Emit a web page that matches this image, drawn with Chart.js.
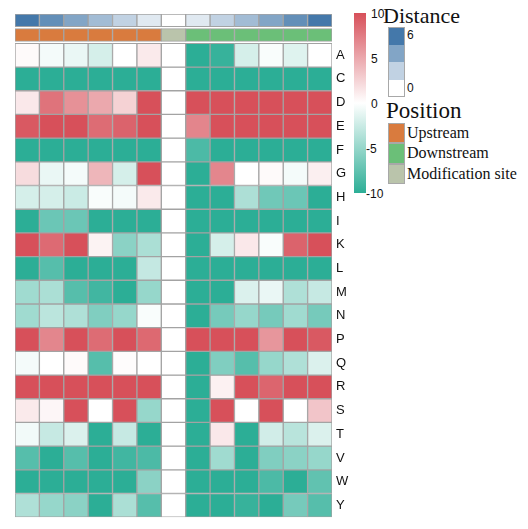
<!DOCTYPE html>
<html>
<head>
<meta charset="utf-8">
<script src="https://cdn.jsdelivr.net/npm/chart.js@4"></script>
<style>
  body { margin: 0; background: #fff; }
  #wrap { position: relative; width: 528px; height: 529px; overflow: hidden; }
  #heat { position: absolute; left: 0; top: 0; }
  .abs { position: absolute; white-space: nowrap; }
  .sans { font-family: "Liberation Sans", Arial, sans-serif; color: #111; }
  .serif { font-family: "Liberation Serif", "Times New Roman", serif; color: #111; }
  .sw { position: absolute; box-sizing: border-box; border: 1px solid #a8a8a8; }
</style>
</head>
<body>
<div id="wrap">
  <canvas id="heat" width="352" height="529"></canvas>
  <div id="legend"></div>
</div>
<script>
// residues (rows) and positions relative to the modified site (columns)
const residues = ["A", "C", "D", "E", "F", "G", "H", "I", "K", "L", "M", "N", "P", "Q", "R", "S", "T", "V", "W", "Y"]
const positions = ["-6", "-5", "-4", "-3", "-2", "-1", "0", "1", "2", "3", "4", "5", "6"]
const distance = [6, 5, 4, 3, 2, 1, 0, 1, 2, 3, 4, 5, 6]
const region = ["Upstream", "Upstream", "Upstream", "Upstream", "Upstream", "Upstream",
  "Modification site",
  "Downstream", "Downstream", "Downstream", "Downstream", "Downstream", "Downstream"]

// enrichment score per residue, clipped to [-10, 10]
const scores = [
  [0.3, -0.5, -1, -2, 0, 1.2, 0, -10, -9.5, -2, -0.3, -1.5, 0],           // A
  [-10, -10, -10, -10, -10, -10, 0, -10, -10, -10, -10, -10, -10],        // C
  [1.3, 8, 6.3, 5, 2.6, 10, 0, 10, 10, 10, 10, 10, 10],                    // D
  [9.5, 10, 10, 8.4, 8.9, 10, 0, 7, 10, 10, 10, 10, 10],                   // E
  [-10, -10, -10, -10, -10, -10, 0, -8.5, -10, -10, -10, -10, -10],       // F
  [2, -1, -0.5, 4.2, -2, 10, 0, -10, 6.9, 0, 0.3, -0.5, 0.9],             // G
  [-2, -2, -2.5, -0.3, -0.5, 1.2, 0, -10, -10, -3.9, -6.8, -7, -10],      // H
  [-10, -7, -7, -10, -10, -10, 0, -10, -10, -10, -10, -10, -10],          // I
  [10, 8.5, 10, 0.7, -5.5, -4, 0, -10, -2, 1.3, -0.3, 8.9, 10],           // K
  [-10, -8, -10, -10, -10, -2.8, 0, -10, -10, -10, -10, -10, -10],        // L
  [-4.5, -4, -8, -9, -10, -5, 0, -10, -10, -1.7, -1, -3.8, -2.7],         // M
  [-4.5, -3.2, -3.8, -6, -5, -0.3, 0, -10, -6.5, -5, -6.5, -4.5, -6.5],   // N
  [10, 6.9, 10, 8.4, 10, 8.6, 0, 10, 10, 10, 6, 10, 9.5],                  // P
  [-0.5, 0, 0.3, -8, 0.2, 0, 0, -10, -6, -8, -5, -3.8, -1.7],             // Q
  [10, 10, 10, 10, 10, 10, 0, -10, 0.8, 10, 8.8, 10, 10],                  // R
  [1.2, 0.5, 10, 0, 10, -5, 0, -10, 10, 0, 10, 0, 3.3],                    // S
  [-0.6, -2.7, -1.7, -10, -2.7, -10, 0, -10, 1.3, -10, -2.2, -3.3, -1.7], // T
  [-8, -10, -8, -10, -9, -8.5, 0, -10, -4.5, -10, -6, -5.5, -5],          // V
  [-10, -10, -10, -10, -10, -5.5, 0, -10, -10, -10, -8.5, -10, -7.5],     // W
  [-3.8, -5, -5.5, -10, -4, -8, 0, -10, -10, -9.5, -10, -6.5, -8]         // Y
]

const scoreTicks = [10, 5, 0, -5, -10]
const distanceTicks = [6, 0]

const LOW = [44, 174, 150], MID = [255, 255, 255], HIGH = [215, 80, 90]
const BLUE = [68, 120, 170]
const regionColor = {
  "Upstream": "#d97b3e",
  "Downstream": "#6bbf78",
  "Modification site": "#bac4ab"
}

function mix(a, b, t) {
  const c = a.map((v, i) => Math.round(v + (b[i] - v) * t))
  return `rgb(${c[0]},${c[1]},${c[2]})`
}
function scoreColor(v) {
  v = Math.max(-10, Math.min(10, v))
  return v >= 0 ? mix(MID, HIGH, v / 10) : mix(MID, LOW, -v / 10)
}
function distanceColor(d) { return mix(MID, BLUE, d / 6) }

// row geometry in y-axis units (one heatmap row = 1)
const nRows = residues.length
const rowPx = 24.2
const gap = 2 / rowPx, strip = 13 / rowPx
const posLo = nRows + gap, posHi = posLo + strip
const distLo = posHi + gap, distHi = distLo + strip

const datasets = scores.map((row, i) => ({
  label: residues[i],
  data: row.map(() => [nRows - i - 1, nRows - i]),
  backgroundColor: row.map(scoreColor)
}))
datasets.push({
  label: "Position",
  data: positions.map(() => [posLo, posHi]),
  backgroundColor: region.map(r => regionColor[r])
})
datasets.push({
  label: "Distance",
  data: positions.map(() => [distLo, distHi]),
  backgroundColor: distance.map(distanceColor)
})

new Chart(document.getElementById("heat"), {
  type: "bar",
  data: { labels: positions, datasets },
  options: {
    responsive: false,
    animation: false,
    layout: { padding: { left: 15, top: 14, right: 0, bottom: 1 } },
    datasets: {
      bar: {
        grouped: false,
        barPercentage: 1,
        categoryPercentage: 1,
        borderColor: "#a3a3a3",
        borderWidth: 1,
        borderSkipped: false
      }
    },
    plugins: { legend: { display: false }, tooltip: { enabled: false } },
    scales: {
      x: { display: false },
      y: {
        position: "right",
        min: 0,
        max: distHi,
        grid: { display: false, drawTicks: false },
        border: { display: false },
        afterBuildTicks: (scale) => {
          scale.ticks = residues.map((r, i) => ({ value: nRows - i - 0.5 }))
        },
        afterFit: (scale) => { scale.width = 20 },
        ticks: {
          padding: 4,
          color: "#111",
          font: { family: "Liberation Sans", size: 13 },
          callback: (v, i) => residues[i]
        }
      }
    }
  }
})

// colour key and annotation legends
const legend = document.getElementById("legend")
function add(html) { legend.insertAdjacentHTML("beforeend", html) }

const cbTop = 13, cbH = 180
add(`<div class="abs" style="left:354px;top:${cbTop}px;width:12px;height:${cbH}px;
  background:linear-gradient(to bottom, ${scoreColor(10)}, ${scoreColor(0)} 50%, ${scoreColor(-10)})"></div>`)
scoreTicks.forEach(t => {
  const y = cbTop + (10 - t) / 20 * cbH + 1
  const x = t < 0 ? 366 : 371
  add(`<div class="abs sans" style="left:${x}px;top:${y - 8}px;font-size:12px;line-height:16px">${t}</div>`)
})

add(`<div class="abs serif" style="left:383px;top:3px;font-size:22px;line-height:26px">Distance</div>`)
const dSteps = [6, 4, 2, 0]
dSteps.forEach((d, i) => {
  add(`<div class="sw" style="left:388px;top:${27 + i * 17.5}px;width:17px;height:17.5px;
    background:${distanceColor(d)};border-color:transparent"></div>`)
})
add(`<div class="abs" style="left:388px;top:27px;width:17px;height:70px;box-sizing:border-box;border:1px solid #a8a8a8"></div>`)
distanceTicks.forEach(d => {
  const y = d === 6 ? 35 : 88
  add(`<div class="abs sans" style="left:407px;top:${y - 8}px;font-size:12px;line-height:16px">${d}</div>`)
})

add(`<div class="abs serif" style="left:386px;top:97px;font-size:23px;line-height:27px">Position</div>`)
const regions = ["Upstream", "Downstream", "Modification site"]
regions.forEach((r, i) => {
  const top = 123 + i * 20.3
  add(`<div class="sw" style="left:388px;top:${top}px;width:17px;height:20.3px;background:${regionColor[r]}"></div>`)
  add(`<div class="abs serif" style="left:407px;top:${top}px;font-size:16px;line-height:20px">${r}</div>`)
})
</script>
</body>
</html>
